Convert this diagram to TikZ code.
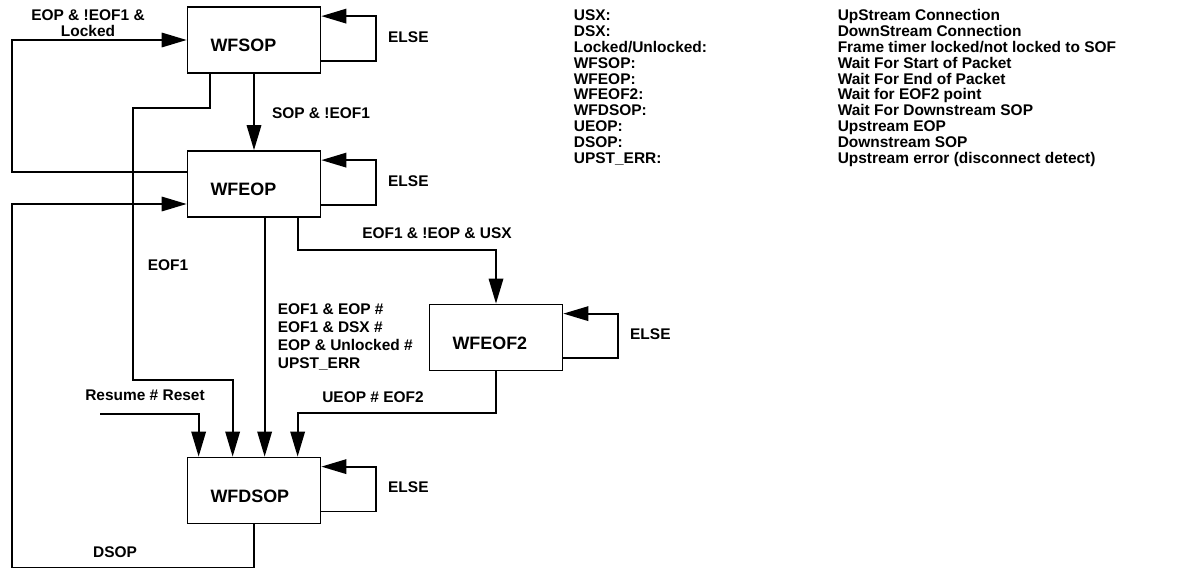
\documentclass[tikz,border=0pt]{standalone}
\usepackage{fontspec}
\setmainfont{Liberation Sans}
\usetikzlibrary{arrows.meta,calc}

\begin{document}
\begin{tikzpicture}[x=0.02cm, y=-0.02cm, line width=1pt,
  stbox/.style={draw, text width=1.74cm, inner xsep=0.46cm, align=left,
    minimum height=1.32cm, text height=0.46cm, text depth=0pt,
    font=\fontsize{10.2}{12}\selectfont\bfseries},
  lbl/.style={font=\fontsize{8.8}{9.1}\selectfont\bfseries, align=center, inner sep=0pt},
  tr/.style={-{Triangle[length=0.5cm,width=0.29cm]}}]
  \useasboundingbox (0,0) rectangle (1179,571);

  % states
  \node[stbox] (wfsop) at (254,40) {WFSOP};
  \node[stbox] (wfeop) at (254,184) {WFEOP};
  \node[stbox] (wfeof2) at (496,337.5) {WFEOF2};
  \node[stbox] (wfdsop) at (254,490.5) {WFDSOP};

  % self loops
  \foreach \s in {wfsop,wfeop,wfeof2,wfdsop} {
    \draw[tr] ($(\s.south east)+(0,-13)$) -- ++(55,0) |- ($(\s.north east)+(0,10)$);
    \node[lbl] (else-\s) at ($(\s.east)+(87,-3)$) {ELSE};
  }

  \coordinate (lft) at (12,0);
  \coordinate (s1) at ($(wfsop.south west)+(23,0)$);
  \coordinate (e1) at ($(wfeop.south west)+(78,0)$);
  \coordinate (e2) at ($(wfeop.south west)+(111,0)$);
  \coordinate (d1) at ($(wfdsop.north west)+(12,0)$);
  \coordinate (d2) at ($(wfdsop.north west)+(46,0)$);
  \coordinate (d4) at ($(wfdsop.north west)+(111,0)$);
  \coordinate (rst) at (100,414);
  \coordinate (in2) at ($(wfeop.west)+(0,20)$);

  \draw[tr] (wfsop) -- (wfeop);
  \node[lbl] (l-sop) at (321,113) {SOP \& !EOF1};

  \draw[tr] ($(wfeop.west)+(0,-12)$) -| (lft |- wfsop.west) -- (wfsop.west);
  \node[lbl] (l-lock) at (88,23) {EOP \& !EOF1 \&\\Locked};

  \draw[tr] (s1) -- ++(0,34) -| (133,380) -| (d2);
  \node[lbl] (l-eof1) at (168,265) {EOF1};

  \draw[tr] (e1) -- (e1 |- wfdsop.north);
  \node[lbl, align=left, anchor=west, font=\fontsize{8.8}{10.4}\selectfont\bfseries]
    (l-err) at (277,337) {EOF1 \& EOP \#\\EOF1 \& DSX \#\\EOP \& Unlocked \#\\UPST\_ERR};

  \draw[tr] (e2) -- ++(0,32) -| (wfeof2.north);
  \node[lbl] (l-usx) at (437,233) {EOF1 \& !EOP \& USX};

  \draw[tr] (wfeof2.south) -- ++(0,42) -| (d4);
  \node[lbl] (l-ueop) at (373,397) {UEOP \# EOF2};

  \draw[tr] (rst) -| (d1);
  \node[lbl] (l-rst) at (145,395) {Resume \# Reset};

  \draw[tr] (wfdsop.south) -- ++(0,43) -| (lft |- in2) -- (in2);
  \node[lbl] (l-dsop) at (115,552) {DSOP};

  % legend
  \node[anchor=base west, inner sep=0pt, font=\fontsize{8.8}{8.9}\selectfont\bfseries]
    (legend) at (573,20.5) {\begin{tabular}[t]{@{}p{150.2pt}@{}l@{}}
      USX: & UpStream Connection\\
      DSX: & DownStream Connection\\
      Locked/Unlocked: & Frame timer locked/not locked to SOF\\
      WFSOP: & Wait For Start of Packet\\
      WFEOP: & Wait For End of Packet\\
      WFEOF2: & Wait for EOF2 point\\
      WFDSOP: & Wait For Downstream SOP\\
      UEOP: & Upstream EOP\\
      DSOP: & Downstream SOP\\
      UPST\_ERR: & Upstream error (disconnect detect)
    \end{tabular}};
\end{tikzpicture}
\end{document}
